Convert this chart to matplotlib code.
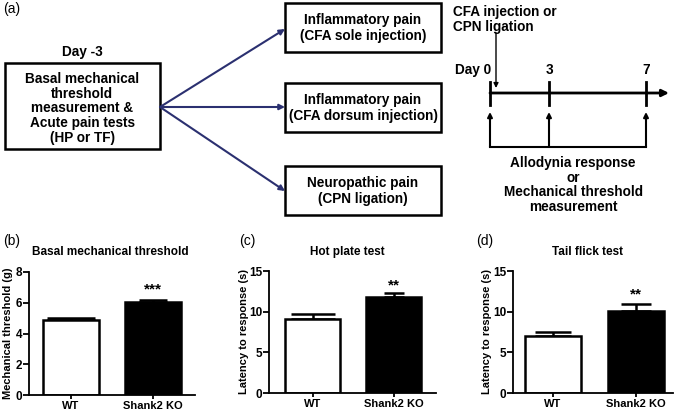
import numpy as np
import matplotlib
matplotlib.use("Agg")
import matplotlib.pyplot as plt
from matplotlib.patches import Rectangle

plt.rcParams['font.family'] = ['Liberation Sans', 'DejaVu Sans']
plt.rcParams['font.weight'] = 'bold'

# data
groups = ['WT', 'Shank2 KO']
basal_mean = [4.9, 6.07]
basal_sem = [0.1, 0.13]
hotplate_mean = [9.07, 11.77]
hotplate_sem = [0.66, 0.49]
tailflick_mean = [6.95, 10.13]
tailflick_sem = [0.53, 0.87]

W, H = 680, 412
fig = plt.figure(figsize=(W / 100, H / 100), dpi=100)

# ---- panel (a): schematic, drawn in pixel coords ----
ax0 = fig.add_axes([0, 0, 1, 1])
ax0.set_xlim(0, W)
ax0.set_ylim(H, 0)
ax0.axis('off')

fs = 9.8
ax0.text(3, 9, '(a)', fontsize=10, fontweight='normal', ha='left', va='center')
ax0.text(82, 52, 'Day -3', fontsize=fs, ha='center', va='center')
ax0.add_patch(Rectangle((5, 63), 155, 86, fill=False, lw=1.8, ec='black'))
for t, y in zip(['Basal mechanical', 'threshold', 'measurement &',
                 'Acute pain tests', '(HP or TF)'], [79, 94, 108, 123, 138]):
    ax0.text(82, y, t, fontsize=fs, ha='center', va='center')

boxes = [(3, 52, ['Inflammatory pain', '(CFA sole injection)']),
         (83, 132, ['Inflammatory pain', '(CFA dorsum injection)']),
         (166, 215, ['Neuropathic pain', '(CPN ligation)'])]
for top, bot, lines in boxes:
    ax0.add_patch(Rectangle((285, top), 156, bot - top, fill=False, lw=1.8, ec='black'))
    mid = (top + bot) / 2
    ax0.text(363, mid - 8, lines[0], fontsize=fs, ha='center', va='center')
    ax0.text(363, mid + 8, lines[1], fontsize=fs, ha='center', va='center')

navy = '#2b3070'
for ye in [29, 107, 191]:
    ax0.annotate('', xy=(285, ye), xytext=(160, 107),
                 arrowprops=dict(arrowstyle='-|>', color=navy, lw=1.5,
                                 mutation_scale=8, shrinkA=0, shrinkB=0))

# timeline
ax0.text(453, 12, 'CFA injection or', fontsize=fs, ha='left', va='center')
ax0.text(453, 27, 'CPN ligation', fontsize=fs, ha='left', va='center')
ax0.annotate('', xy=(496, 88), xytext=(496, 33),
             arrowprops=dict(arrowstyle='-|>', color='black', lw=1.0,
                             mutation_scale=7, shrinkA=0, shrinkB=0))
ax0.annotate('', xy=(669, 93), xytext=(490, 93),
             arrowprops=dict(arrowstyle='-|>', color='black', lw=2,
                             mutation_scale=10, shrinkA=0, shrinkB=0))
for x, lab in zip([490, 549, 646], ['Day 0', '3', '7']):
    ax0.plot([x, x], [82, 105], color='black', lw=2)
    ax0.text(x + (-17 if lab == 'Day 0' else 0), 70, lab, fontsize=fs,
             ha='center', va='center')
    ax0.annotate('', xy=(x, 112), xytext=(x, 147),
                 arrowprops=dict(arrowstyle='-|>', color='black', lw=1.5,
                                 mutation_scale=7, shrinkA=0, shrinkB=0))
ax0.plot([490, 646], [147, 147], color='black', lw=1.5)
for t, y in zip(['Allodynia response', 'or', 'Mechanical threshold', 'measurement'],
                [163, 178, 192, 207]):
    ax0.text(573, y, t, fontsize=fs, ha='center', va='center')

# ---- bar panels ----
def px_axes(x0, x1, ytop, ybot):
    return fig.add_axes([x0 / W, 1 - ybot / H, (x1 - x0) / W, (ybot - ytop) / H])

panels = [
    dict(box=(29, 195, 272, 395), xlim=(-0.51, 1.51), mean=basal_mean, sem=basal_sem,
         ymax=8, yticks=[0, 2, 4, 6, 8], title='Basal mechanical threshold',
         ylabel='Mechanical threshold (g)', star='***', stary=6.4, caps=[17, 10],
         tag='(b)', tagx=3, titlex=110, ylabx=8),
    dict(box=(269, 436, 271, 393), xlim=(-0.54, 1.52), mean=hotplate_mean, sem=hotplate_sem,
         ymax=15, yticks=[0, 5, 10, 15], title='Hot plate test',
         ylabel='Latency to response (s)', star='**', stary=12.4, caps=[16, 7],
         tag='(c)', tagx=239, titlex=347, ylabx=244),
    dict(box=(513, 673, 271, 393), xlim=(-0.48, 1.45), mean=tailflick_mean, sem=tailflick_sem,
         ymax=15, yticks=[0, 5, 10, 15], title='Tail flick test',
         ylabel='Latency to response (s)', star='**', stary=11.2, caps=[13, 11],
         tag='(d)', tagx=476, titlex=587, ylabx=487),
]

for p in panels:
    x0, x1, yt, yb = p['box']
    ax = px_axes(x0, x1, yt, yb)
    xs = np.arange(len(groups))
    ax.bar(xs, p['mean'], width=0.68, color=['white', 'black'],
           edgecolor='black', linewidth=1.8, zorder=2)
    for i in range(len(groups)):
        ax.errorbar(xs[i], p['mean'][i], yerr=[[0], [p['sem'][i]]], fmt='none',
                    ecolor='black', elinewidth=1.8, capsize=p['caps'][i],
                    capthick=1.8, zorder=1)
    ax.text(1, p['stary'], p['star'], fontsize=11, ha='center', va='bottom')
    ax.set_xlim(*p['xlim'])
    ax.set_ylim(0, p['ymax'])
    ax.set_yticks(p['yticks'])
    ax.set_xticks(xs)
    ax.set_xticklabels(groups, fontsize=8, fontweight='bold')
    ax.tick_params(axis='y', labelsize=8.5, length=4, width=1.3, pad=1)
    ax.tick_params(axis='x', length=3, width=1.3, pad=1)
    for lab in ax.get_yticklabels():
        lab.set_fontweight('bold')
    for s in ['top', 'right']:
        ax.spines[s].set_visible(False)
    for s in ['left', 'bottom']:
        ax.spines[s].set_linewidth(1.3)
    cy = (yt + yb) / 2
    ax0.text(p['ylabx'], cy, p['ylabel'], fontsize=8, rotation=90,
             ha='center', va='center')
    ax0.text(p['titlex'], 252, p['title'], fontsize=8.5, ha='center', va='center')
    ax0.text(p['tagx'], 241, p['tag'], fontsize=10, fontweight='normal',
             ha='left', va='center')

fig.savefig('out.png', dpi=100)
